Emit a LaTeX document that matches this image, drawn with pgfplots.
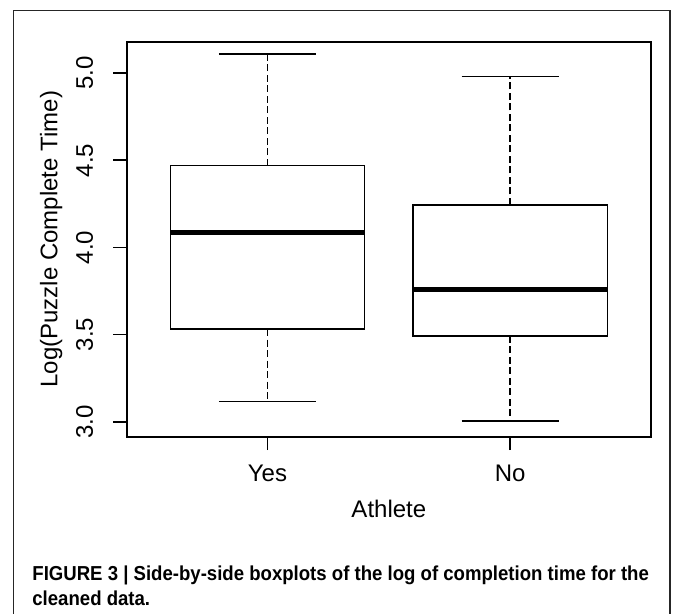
\documentclass[border=0pt]{standalone}
\usepackage{fontspec}
\setmainfont{Liberation Sans}
\newfontfamily\capfont[FakeStretch=0.92]{Liberation Sans Bold}
\usepackage{pgfplots}
\pgfplotsset{compat=1.18}
\begin{document}
\begin{tikzpicture}
\begin{scope}[x=0.5pt,y=-0.5pt]
\useasboundingbox (0,0) rectangle (673,614);
\draw[black!85, line width=0.6pt] (13.3,614) -- (13.3,10.7) -- (670,10.7) -- (670,614);
\node[anchor=base west, inner sep=0pt, font=\capfont\fontsize{10.1}{12}\selectfont] at (32,580.7) {FIGURE 3 | Side-by-side boxplots of the log of completion time for the};
\node[anchor=base west, inner sep=0pt, font=\capfont\fontsize{10.1}{12}\selectfont] at (32,605.5) {cleaned data.};
\end{scope}
\begin{axis}[
  at={(63.35pt,-218.35pt)}, anchor=south west,
  width=262.15pt, height=197.5pt, scale only axis,
  xmin=0.42, xmax=2.58, ymin=2.914, ymax=5.181,
  axis line style={line width=0.9pt},
  xtick={1,2}, xticklabels={Yes,No},
  ytick={3,3.5,4,4.5,5}, yticklabels={3.0,3.5,4.0,4.5,5.0},
  tick align=outside, tick pos=left, major tick length=6.75pt,
  every tick/.style={black, line width=0.9pt},
  tick label style={font=\fontsize{12}{13}\selectfont},
  yticklabel style={rotate=90, anchor=south, inner sep=0pt},
  xticklabel style={anchor=base, inner sep=0pt},
  yticklabel shift=9.8pt, xticklabel shift=15.5pt,
  xlabel={Athlete}, ylabel={Log(Puzzle Complete Time)},
  every axis x label/.style={at={(axis description cs:0.5,-0.204)}, anchor=base, inner sep=0pt, font=\fontsize{12}{13}\selectfont},
  every axis y label/.style={at={(axis description cs:-0.132,0.5)}, rotate=90, anchor=base, inner sep=0pt, font=\fontsize{12}{13}\selectfont},
  boxline/.style={black, line width=0.8pt, line join=miter, mark=none},
  whisk/.style={black, line width=0.8pt, dash pattern=on 3.5pt off 1.75pt, mark=none},
  medline/.style={black, line width=2.3pt, mark=none},
]
% ---- Athlete = Yes (x = 1): lw 3.115, Q1 3.531, median 4.085, Q3 4.470, uw 5.110
\addplot[whisk] coordinates {(1,4.470) (1,5.110)};
\addplot[whisk] coordinates {(1,3.531) (1,3.115)};
\addplot[boxline] coordinates {(0.8,5.110) (1.2,5.110)};
\addplot[boxline] coordinates {(0.8,3.115) (1.2,3.115)};
\addplot[boxline] coordinates {(0.6,3.531) (1.4,3.531) (1.4,4.470) (0.6,4.470) (0.6,3.531)} -- cycle;
\addplot[medline] coordinates {(0.6,4.085) (1.4,4.085)};
% ---- Athlete = No (x = 2): lw 3.003, Q1 3.493, median 3.760, Q3 4.244, uw 4.982
\addplot[whisk] coordinates {(2,4.244) (2,4.982)};
\addplot[whisk] coordinates {(2,3.493) (2,3.003)};
\addplot[boxline] coordinates {(1.8,4.982) (2.2,4.982)};
\addplot[boxline] coordinates {(1.8,3.003) (2.2,3.003)};
\addplot[boxline] coordinates {(1.6,3.493) (2.4,3.493) (2.4,4.244) (1.6,4.244) (1.6,3.493)} -- cycle;
\addplot[medline] coordinates {(1.6,3.760) (2.4,3.760)};
\end{axis}
\end{tikzpicture}
\end{document}
